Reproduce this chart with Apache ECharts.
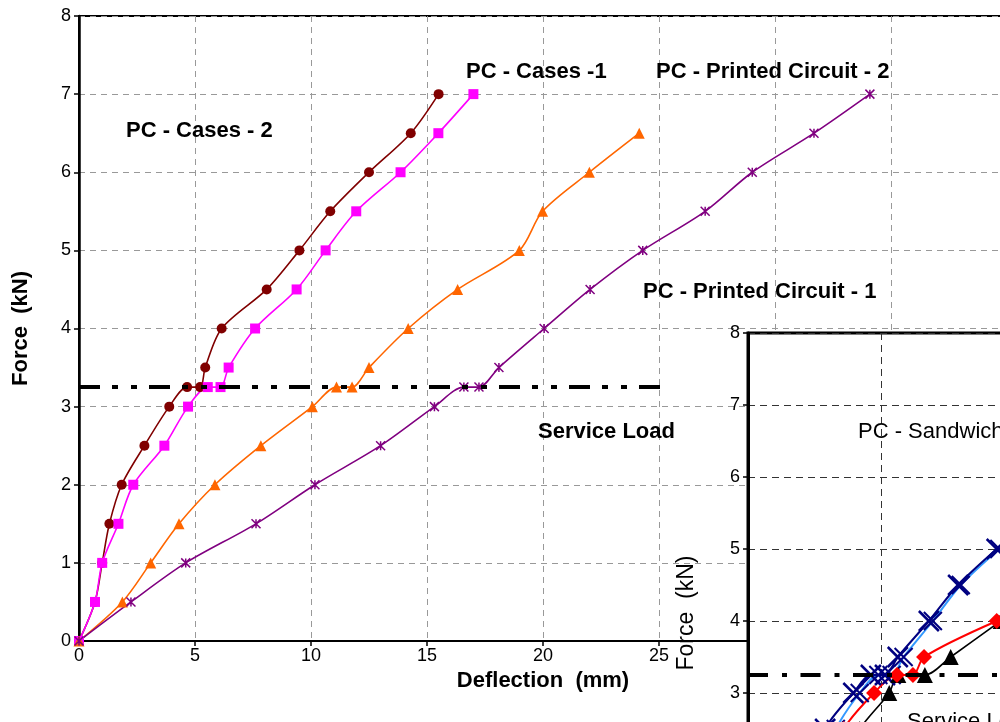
<!DOCTYPE html>
<html>
<head>
<meta charset="utf-8">
<script src="https://cdn.jsdelivr.net/npm/echarts@6/dist/echarts.min.js"></script>
<style>
html,body{margin:0;padding:0;background:#fff;}
#chart{width:1000px;height:722px;}
</style>
</head>
<body>
<div id="chart"></div>
<script>
// ---- Main chart data (Deflection mm, Force kN) ----
var xCases2 = [0, 0.69, 1.0, 1.31, 1.84, 2.82, 3.89, 4.66, 5.22, 5.44, 6.15, 8.09, 9.5, 10.83, 12.5, 14.3, 15.5];
var yCases2 = [0, 0.5, 1.0, 1.5, 2.0, 2.5, 3.0, 3.25, 3.25, 3.5, 4.0, 4.5, 5.0, 5.5, 6.0, 6.5, 7.0];
var xCases1 = [0, 0.69, 1.0, 1.7, 2.34, 3.68, 4.7, 5.55, 6.1, 6.45, 7.59, 9.38, 10.63, 11.95, 13.86, 15.49, 17.0];
var yCases1 = [0, 0.5, 1.0, 1.5, 2.0, 2.5, 3.0, 3.25, 3.25, 3.5, 4.0, 4.5, 5.0, 5.5, 6.0, 6.5, 7.0];
var xCircuit1 = [0, 1.87, 3.09, 4.31, 5.86, 7.84, 10.06, 11.1, 11.77, 12.5, 14.19, 16.32, 18.98, 19.98, 22.0, 24.15];
var yCircuit1 = [0, 0.5, 1.0, 1.5, 2.0, 2.5, 3.0, 3.25, 3.25, 3.5, 4.0, 4.5, 5.0, 5.5, 6.0, 6.5];
var xCircuit2 = [0, 2.24, 4.6, 7.63, 10.17, 13.0, 15.32, 16.59, 17.24, 18.1, 20.05, 22.03, 24.3, 26.99, 29.02, 31.68, 34.09];
var yCircuit2 = [0, 0.5, 1.0, 1.5, 2.0, 2.5, 3.0, 3.25, 3.25, 3.5, 4.0, 4.5, 5.0, 5.5, 6.0, 6.5, 7.0];
var serviceLoad = 3.25;
var serviceX = [0, 25.13];

// ---- Inset chart data ----
var xSandA = [0, 2.9, 3.96, 4.62, 5.15, 5.63, 6.8, 7.9, 9.35];
var ySandA = [0, 2.5, 3.0, 3.25, 3.25, 3.5, 4.0, 4.5, 5.0];
var xSandB = [0, 3.3, 4.2, 4.9, 5.4, 5.85, 6.95, 8.0, 9.45];
var ySandB = [0, 2.5, 3.0, 3.25, 3.25, 3.5, 4.0, 4.5, 5.0];
var xSandRed = [0, 3.6, 4.74, 5.6, 6.2, 6.62, 9.35];
var ySandRed = [0, 2.5, 3.0, 3.25, 3.25, 3.5, 4.0];
var xSandBlack = [0, 4.2, 5.31, 5.65, 6.65, 7.62, 9.5];
var ySandBlack = [0, 2.5, 3.0, 3.25, 3.25, 3.5, 4.0];
var insetServiceX = [0, 12];

function zip(xs, ys) { return xs.map(function (x, i) { return [x, ys[i]]; }); }

var FONT = 'Liberation Sans, Arial, sans-serif';
var asterisk = 'path://M0,0L10,10M10,0L0,10M5,0L5,10';
var cross = 'path://M0,0L10,10M10,0L0,10';
var dashDotDot = [21, 12, 6, 13, 6, 12];
var dashDot = [20, 14, 5, 13.5];

var chart = echarts.init(document.getElementById('chart'), null, {renderer: 'canvas'});

function mainSeries(name, xs, ys, color, symbol, size, extra) {
  var s = {
    name: name, type: 'line', xAxisIndex: 0, yAxisIndex: 0,
    data: zip(xs, ys), smooth: 0.3,
    symbol: symbol, symbolSize: size,
    lineStyle: {color: color, width: 1.6},
    itemStyle: {color: color, borderColor: color, borderWidth: 0},
    z: 3, animation: false
  };
  if (extra) Object.assign(s.itemStyle, extra);
  return s;
}
function insetSeries(name, xs, ys, lineColor, markColor, symbol, size, lw, extra) {
  var s = {
    name: name, type: 'line', xAxisIndex: 1, yAxisIndex: 1,
    data: zip(xs, ys), smooth: 0.3,
    symbol: symbol, symbolSize: size,
    lineStyle: {color: lineColor, width: lw},
    itemStyle: {color: markColor, borderColor: markColor, borderWidth: 0},
    z: 12, animation: false
  };
  if (extra) Object.assign(s.itemStyle, extra);
  return s;
}

var option = {
  backgroundColor: '#fff',
  animation: false,
  textStyle: {fontFamily: FONT},
  grid: [
    {left: 79, top: 16, right: -7, bottom: 81, outerBoundsMode: 'none', containLabel: false,
     show: true, borderColor: '#000', borderWidth: 2, backgroundColor: 'rgba(0,0,0,0)', z: 0},
    {left: 748, top: 333, right: -147, bottom: -187, outerBoundsMode: 'none', containLabel: false,
     show: true, borderColor: '#000', borderWidth: 3, backgroundColor: '#fff', z: 5}
  ],
  xAxis: [
    {
      gridIndex: 0, type: 'value', min: 0, max: 40, interval: 5,
      name: 'Deflection  (mm)', nameLocation: 'middle', nameGap: 26,
      nameTextStyle: {fontFamily: FONT, fontSize: 22, fontWeight: 'bold', color: '#000'},
      axisLine: {show: true, onZero: false, lineStyle: {color: '#000', width: 2}},
      axisTick: {show: true, inside: false, length: 5, lineStyle: {color: '#000', width: 1.5}},
      axisLabel: {fontFamily: FONT, fontSize: 18, color: '#000', margin: 6},
      splitLine: {show: true, lineStyle: {color: '#999', type: [6, 5], width: 1}},
      z: 0
    },
    {
      gridIndex: 1, type: 'value', min: 0, max: 15, interval: 5,
      axisLine: {show: false},
      axisTick: {show: false},
      axisLabel: {show: false},
      splitLine: {show: true, lineStyle: {color: '#333', type: [7, 5], width: 1}},
      z: 6
    }
  ],
  yAxis: [
    {
      gridIndex: 0, type: 'value', min: 0, max: 8, interval: 1,
      name: 'Force  (kN)', nameLocation: 'middle', nameGap: 47,
      nameTextStyle: {fontFamily: FONT, fontSize: 22, fontWeight: 'bold', color: '#000'},
      axisLine: {show: true, onZero: false, lineStyle: {color: '#000', width: 2.5}},
      axisTick: {show: true, inside: false, length: 5, lineStyle: {color: '#000', width: 1.5}},
      axisLabel: {fontFamily: FONT, fontSize: 18, color: '#000', margin: 8},
      splitLine: {show: true, lineStyle: {color: '#999', type: [6, 5], width: 1}},
      z: 0
    },
    {
      gridIndex: 1, type: 'value', min: 0, max: 8, interval: 1,
      axisLine: {show: true, onZero: false, lineStyle: {color: '#000', width: 3}},
      axisTick: {show: true, inside: false, length: 5, lineStyle: {color: '#000', width: 1.5}},
      axisLabel: {fontFamily: FONT, fontSize: 18, color: '#000', margin: 8},
      splitLine: {show: true, lineStyle: {color: '#333', type: [7, 5], width: 1}},
      z: 6
    }
  ],
  graphic: [
    {type: 'text', left: 126, top: 120, z: 20, style: {text: 'PC - Cases - 2', font: 'bold 22px ' + FONT, fill: '#000'}},
    {type: 'text', left: 466, top: 61, z: 20, style: {text: 'PC - Cases -1', font: 'bold 22px ' + FONT, fill: '#000'}},
    {type: 'text', left: 656, top: 61, z: 20, style: {text: 'PC - Printed Circuit - 2', font: 'bold 22px ' + FONT, fill: '#000'}},
    {type: 'text', left: 643, top: 281, z: 20, style: {text: 'PC - Printed Circuit - 1', font: 'bold 22px ' + FONT, fill: '#000'}},
    {type: 'text', left: 538, top: 421, z: 20, style: {text: 'Service Load', font: 'bold 22px ' + FONT, fill: '#000'}},
    {type: 'text', left: 858, top: 421, z: 20, style: {text: 'PC - Sandwich', font: '22px ' + FONT, fill: '#000'}},
    {type: 'text', left: 907, top: 711, z: 20, style: {text: 'Service Load', font: '22px ' + FONT, fill: '#000'}},
    {type: 'text', x: 687, y: 613, rotation: Math.PI / 2, z: 20,
     style: {text: 'Force  (kN)', font: '23px ' + FONT, fill: '#000', align: 'center', verticalAlign: 'middle'}}
  ],
  series: [
    mainSeries('PC - Cases - 2', xCases2, yCases2, '#800000', 'circle', 10),
    mainSeries('PC - Cases -1', xCases1, yCases1, '#FF00FF', 'rect', 10),
    mainSeries('PC - Printed Circuit - 1', xCircuit1, yCircuit1, '#FF6600', 'triangle', 11),
    mainSeries('PC - Printed Circuit - 2', xCircuit2, yCircuit2, '#800080', asterisk, 9, {borderWidth: 1.5}),
    {
      name: 'Service Load', type: 'line', xAxisIndex: 0, yAxisIndex: 0,
      data: serviceX.map(function (x) { return [x, serviceLoad]; }),
      symbol: 'none', lineStyle: {color: '#000', width: 4, type: dashDotDot, cap: 'butt'},
      z: 4, animation: false
    },
    insetSeries('Sandwich B', xSandB, ySandB, '#3399FF', '#000080', cross, 18, 2, {borderWidth: 2}),
    insetSeries('Sandwich A', xSandA, ySandA, '#000080', '#000080', cross, 20, 2, {borderWidth: 2.5}),
    insetSeries('Sandwich Black', xSandBlack, ySandBlack, '#000000', '#000000', 'triangle', 16, 1.6),
    insetSeries('Sandwich Red', xSandRed, ySandRed, '#FF0000', '#FF0000', 'diamond', 16, 2),
    {
      name: 'Service Load (inset)', type: 'line', xAxisIndex: 1, yAxisIndex: 1,
      data: insetServiceX.map(function (x) { return [x, serviceLoad]; }),
      symbol: 'none', lineStyle: {color: '#000', width: 4, type: dashDot, cap: 'butt'},
      z: 14, animation: false
    }
  ]
};
chart.setOption(option);
</script>
</body>
</html>
